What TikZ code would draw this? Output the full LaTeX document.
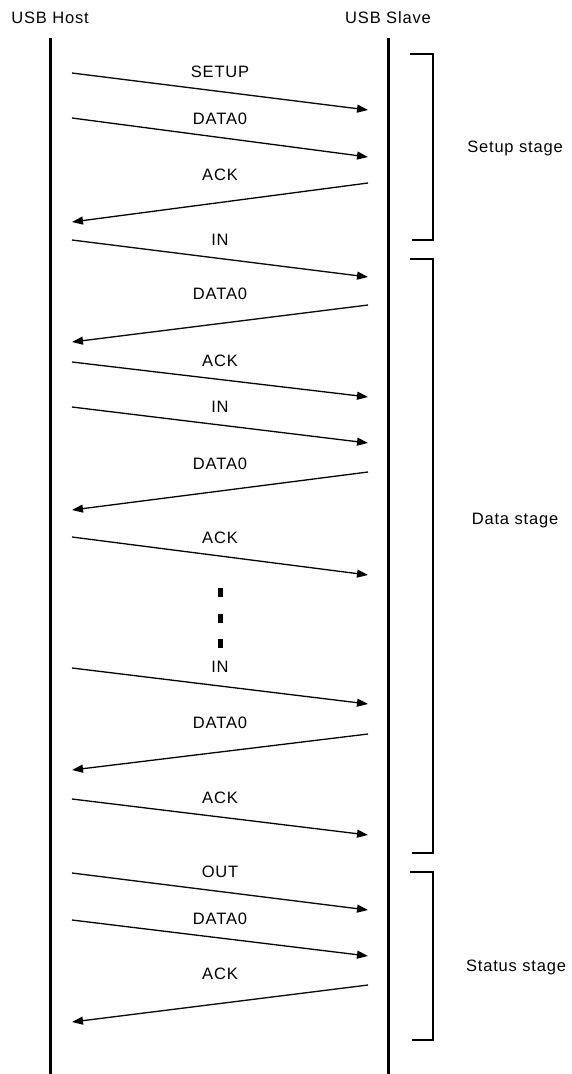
\documentclass[tikz,border=0pt]{standalone}
\usepackage{fontspec}
\setmainfont{Liberation Sans}[LetterSpace=5]
\usetikzlibrary{arrows.meta}

\begin{document}
\begin{tikzpicture}[
  x=1pt,y=-1pt,
  font=\fontsize{16.5}{19}\selectfont,
  life/.style={line width=3pt},
  msg/.style={line width=1.3pt,-{Triangle[length=11pt,width=8pt]}},
  lbl/.style={inner sep=0pt,anchor=mid,yshift=-3.5pt},
  stagebrace/.style={line width=1.5pt},
  dotmark/.style={fill=black,inner sep=0pt,minimum width=5pt,minimum height=9pt}
]
\useasboundingbox (0,0) rectangle (571,1074);

% lifelines
\node[lbl] (host)  at (50,17)  {USB Host};
\node[lbl] (slave) at (388,17) {USB Slave};
\coordinate (hostTop) at (50,38);   \coordinate (hostEnd) at (50,1074);
\coordinate (slaveTop) at (388,38); \coordinate (slaveEnd) at (388,1074);
\draw[life] (hostTop) -- (hostEnd);
\draw[life] (slaveTop) -- (slaveEnd);

% messages: number/label/label y/host y/slave y/from/to
\foreach \n/\txt/\yl/\yh/\ys/\src/\dst in {
    1/SETUP/71/73/110/h/s,
    2/DATA0/118/118/157/h/s,
    3/ACK/174/222/183/s/h,
    4/IN/239/240/277/h/s,
    5/DATA0/293/342/305/s/h,
    6/ACK/360/362/397/h/s,
    7/IN/406/407/443/h/s,
    8/DATA0/463/510/472/s/h,
    9/ACK/537/537/575/h/s,
    10/IN/666/668/704/h/s,
    11/DATA0/722/770/734/s/h,
    12/ACK/797/799/835/h/s,
    13/OUT/871/873/910/h/s,
    14/DATA0/918/920/956/h/s,
    15/ACK/973/1022/985/s/h} {
  \coordinate (h\n) at (72,\yh);
  \coordinate (s\n) at (368,\ys);
  \node[lbl] (m\n) at (220,\yl) {\txt};
  \draw[msg] (\src\n) -- (\dst\n);
}

% omitted transfers
\foreach \k/\y in {1/592,2/618,3/643}
  \node[dotmark] (dot\k) at (220,\y) {};

% stages
\draw[stagebrace] (410,54) -- (433,54) -- (433,240) -- (412,240);
\draw[stagebrace] (410,259) -- (433,259) -- (433,853) -- (412,853);
\draw[stagebrace] (410,872) -- (433,872) -- (433,1040) -- (412,1040);
\node[lbl] (setup)  at (515,146) {Setup stage};
\node[lbl] (data)   at (515,518) {Data stage};
\node[lbl] (status) at (516,965) {Status stage};
\end{tikzpicture}
\end{document}
